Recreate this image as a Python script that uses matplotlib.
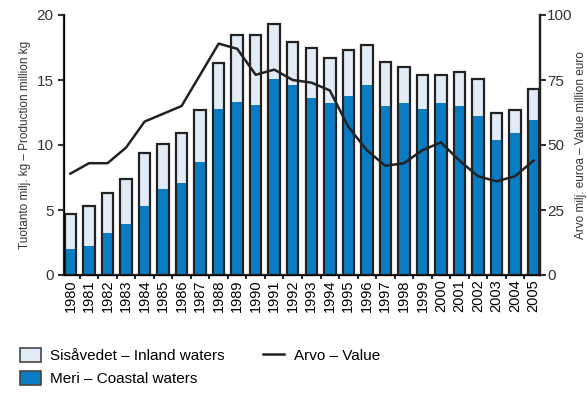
import numpy as np
import matplotlib
matplotlib.use('Agg')
from matplotlib import pyplot as plt
from matplotlib.patches import Patch
from matplotlib.lines import Line2D

plt.rcParams['font.family'] = ['Liberation Sans Narrow', 'Liberation Sans', 'DejaVu Sans']

years = [str(y) for y in range(1980, 2006)]
total = [4.7, 5.3, 6.3, 7.4, 9.4, 10.1, 10.9, 12.7, 16.3, 18.5, 18.5, 19.3, 17.9,
         17.5, 16.7, 17.3, 17.7, 16.4, 16.0, 15.4, 15.4, 15.6, 15.1, 12.5, 12.7, 14.3]
coastal = [2.0, 2.2, 3.2, 3.9, 5.3, 6.6, 7.1, 8.7, 12.8, 13.3, 13.1, 15.1, 14.6,
           13.6, 13.2, 13.8, 14.6, 13.0, 13.2, 12.8, 13.2, 13.0, 12.2, 10.4, 10.9, 11.9]
value = [39, 43, 43, 49, 59, 62, 65, 77, 89, 87, 77, 79, 75,
         74, 71, 57, 48, 42, 43, 48, 51, 44, 38, 36, 38, 44]

inland = np.array(total) - np.array(coastal)
x = np.arange(len(years))

c_coast = '#0A7CC4'
c_inland = '#E1ECF7'
c_edge = '#222222'

fig = plt.figure(figsize=(5.87, 4.0), dpi=100)
ax = fig.add_axes([0.109, 0.3125, 0.811, 0.65])
w = 0.62
ax.bar(x, coastal, w, color=c_coast, linewidth=0, zorder=2)
ax.bar(x, inland, w, bottom=coastal, color=c_inland, linewidth=0, zorder=2)
ax.bar(x, total, w, color='none', edgecolor=c_edge, linewidth=1.6, zorder=3)

ax.set_xlim(-0.35, len(years) - 0.65)
ax.set_ylim(0, 20)
ax.set_yticks([0, 5, 10, 15, 20])
ax.set_xticks(x)
ax.set_xticklabels(years, rotation=90, fontsize=10.5)
ax.set_xticks(x[:-1] + 0.5, minor=True)
ax.tick_params(axis='x', which='major', length=0, pad=3)
ax.tick_params(axis='x', which='minor', length=3, width=1.2, direction='out')
ax.tick_params(axis='y', labelsize=11, length=4, width=1.5, colors='#333333')
for s in ['left', 'bottom', 'right']:
    ax.spines[s].set_linewidth(1.6)
    ax.spines[s].set_color(c_edge)
ax.spines['top'].set_visible(False)
ax.set_ylabel('Tuotanto milj. kg – Production million kg', fontsize=8.5, color='#333333', labelpad=4)

ax2 = ax.twinx()
ax2.plot(x, value, color='#222222', linewidth=1.8, zorder=4)
ax2.set_ylim(0, 100)
ax2.set_yticks([0, 25, 50, 75, 100])
ax2.tick_params(axis='y', labelsize=11, length=4, width=1.5, colors='#333333', pad=1)
ax2.spines['top'].set_visible(False)
ax2.spines['right'].set_linewidth(1.6)
ax2.spines['right'].set_color(c_edge)
ax2.set_ylabel('Arvo milj. euroa – Value million euro', fontsize=8.5, color='#333333', labelpad=2)

handles = [Patch(facecolor=c_inland, edgecolor='#444444', linewidth=1.2),
           Patch(facecolor=c_coast, edgecolor='#444444', linewidth=1.2),
           Line2D([], [], color='#222222', linewidth=1.8)]
labels = ['Sisåvedet – Inland waters', 'Meri – Coastal waters', 'Arvo – Value']
fig.legend(handles, labels, ncol=2, loc='lower left', bbox_to_anchor=(0.01, 0.0),
           frameon=False, fontsize=11, handlelength=1.4, handleheight=1.1,
           columnspacing=2.5, labelspacing=0.5, handletextpad=0.6)

fig.savefig('out.png', dpi=100)
